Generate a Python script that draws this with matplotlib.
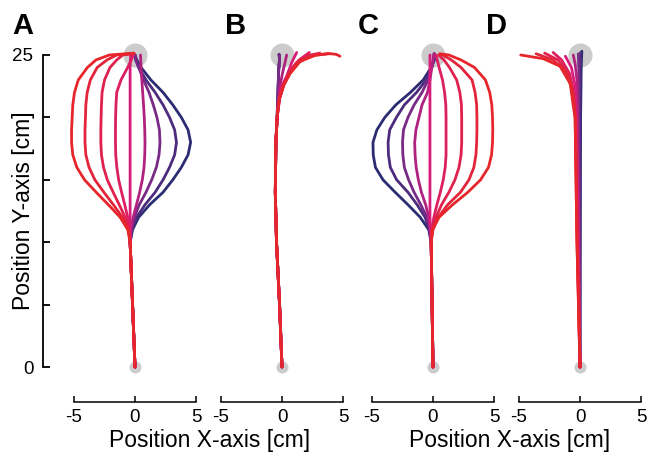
import matplotlib.pyplot as plt

plt.rcParams['font.family'] = ['Liberation Sans', 'DejaVu Sans']

# line colours, index 0 = navy ... index 8 = red
colors = ['#2b2c72', '#4d2b7d', '#782a86', '#b0227f', '#d81c7b',
          '#dc1e63', '#e0214d', '#e3243a', '#e6262b']

# y samples (cm) used by the curves of panels A and C
y_ac = [0, 10, 11, 12, 13, 14, 15, 16, 17, 18, 19, 20, 21, 22, 23, 24, 24.6, 25]

# panel A: x (cm) at y_ac, navy -> red
a_x = [
    [0, -0.4, -0.2, 0.3, 1.2, 2.3, 3.1, 3.8, 4.35, 4.56, 4.35, 3.8, 3.1, 2.3, 1.3, 0.5, 0.15, 0.0],
    [0, -0.4, -0.25, 0.13, 0.82, 1.65, 2.3, 2.83, 3.25, 3.4, 3.25, 2.83, 2.3, 1.65, 0.9, 0.3, 0.05, 0.0],
    [0, -0.4, -0.3, -0.05, 0.35, 0.9, 1.37, 1.75, 1.97, 2.05, 2.0, 1.8, 1.5, 1.15, 0.7, 0.3, 0.1, 0.0],
    [0, -0.4, -0.35, -0.15, 0.12, 0.38, 0.6, 0.74, 0.8, 0.82, 0.8, 0.76, 0.7, 0.63, 0.56, 0.5, 0.47, 0.45],
    [0, -0.4, -0.4, -0.4, -0.4, -0.4, -0.4, -0.4, -0.4, -0.4, -0.4, -0.4, -0.4, -0.4, -0.4, -0.4, -0.38, -0.35],
    [0, -0.4, -0.45, -0.6, -0.84, -1.1, -1.34, -1.49, -1.58, -1.6, -1.6, -1.59, -1.56, -1.5, -1.15, -0.6, -0.3, -0.15],
    [0, -0.4, -0.5, -0.81, -1.29, -1.79, -2.27, -2.58, -2.75, -2.8, -2.8, -2.78, -2.75, -2.7, -2.5, -2.05, -1.5, -1.0],
    [0, -0.4, -0.55, -1.03, -1.77, -2.55, -3.29, -3.77, -4.03, -4.1, -4.1, -4.06, -4.03, -3.92, -3.66, -3.1, -2.3, -1.5],
    [0, -0.4, -0.59, -1.22, -2.18, -3.18, -4.14, -4.77, -5.1, -5.2, -5.2, -5.15, -5.1, -4.96, -4.65, -3.9, -3.2, -2.1],
]
a_end_x = [0.0, 0.0, 0.0, 0.45, -0.3, -0.05, -0.1, -0.1, -0.1]
a_end_y = [25.0, 25.0, 25.0, 25.0, 25.1, 25.1, 25.12, 25.12, 25.15]

# panel C: x (cm) at y_ac, navy -> red
c_x = [
    [0, -0.15, -0.35, -1.05, -2.05, -3.1, -4.1, -4.72, -4.9, -4.92, -4.6, -3.95, -3.05, -1.85, -0.8, -0.15, 0.12, 0.1],
    [0, -0.15, -0.3, -0.65, -1.3, -2.05, -2.98, -3.5, -3.65, -3.68, -3.55, -3.0, -2.35, -1.35, -0.55, -0.1, 0.05, 0.1],
    [0, -0.15, -0.25, -0.5, -1.0, -1.55, -2.0, -2.35, -2.47, -2.5, -2.42, -2.05, -1.55, -0.9, -0.4, -0.1, 0.05, 0.1],
    [0, -0.15, -0.2, -0.35, -0.6, -0.95, -1.2, -1.38, -1.47, -1.5, -1.4, -1.15, -0.9, -0.45, -0.25, -0.1, 0.0, 0.05],
    [0, -0.15, -0.2, -0.25, -0.25, -0.25, -0.25, -0.25, -0.25, -0.25, -0.25, -0.25, -0.25, -0.25, -0.25, -0.25, -0.25, -0.25],
    [0, -0.15, -0.1, 0.07, 0.32, 0.6, 0.84, 1.0, 1.07, 1.07, 1.07, 1.07, 1.05, 0.95, 0.78, 0.5, 0.35, 0.25],
    [0, -0.15, -0.05, 0.25, 0.7, 1.3, 1.8, 2.13, 2.3, 2.35, 2.35, 2.35, 2.33, 2.2, 1.94, 1.35, 0.9, 0.45],
    [0, -0.15, 0.0, 0.43, 1.2, 2.25, 2.95, 3.35, 3.52, 3.58, 3.6, 3.6, 3.58, 3.45, 3.2, 2.3, 1.5, 0.8],
    [0, -0.15, -0.05, 0.5, 1.6, 2.85, 3.9, 4.55, 4.8, 4.88, 4.9, 4.88, 4.82, 4.65, 4.3, 3.4, 2.3, 1.3],
]
c_end_x = [0.1, 0.1, 0.1, 0.1, -0.25, 0.25, 0.45, 0.55, 0.55]
c_end_y = [25.1, 25.1, 25.1, 25.1, 25.0, 25.0, 25.0, 25.05, 25.1]

# panel B: common lower path, then each curve's own upper path
b_trunk_x = [0, -0.2, -0.45, -0.55, -0.5, -0.4]
b_trunk_y = [0, 5, 10, 14, 18, 20]
b_top_x = [
    [-0.33, -0.27, -0.2, -0.24],
    [-0.33, -0.27, -0.2, -0.24],
    [-0.33, -0.27, -0.2, -0.24],
    [-0.2, 0.05, 0.25, 0.38],
    [-0.1, 0.38, 0.8, 1.2],
    [-0.2, 0.2, 0.7, 1.4, 2.24],
    [-0.22, 0.15, 0.55, 1.2, 2.1, 3.1],
    [-0.25, 0.1, 0.6, 1.35, 2.5, 3.9],
    [-0.25, 0.1, 0.66, 1.5, 2.8, 3.8, 4.45, 4.75],
]
b_top_y = [
    [22, 23.8, 24.7, 25.05],
    [22, 23.8, 24.7, 25.05],
    [22, 23.8, 24.7, 25.05],
    [22.3, 23.6, 24.4, 25.0],
    [22.3, 23.3, 24.4, 25.2],
    [21.5, 22.8, 23.8, 24.6, 25.2],
    [21.4, 22.6, 23.5, 24.4, 24.95, 25.15],
    [21.4, 22.5, 23.5, 24.4, 24.95, 25.1],
    [21.4, 22.5, 23.5, 24.5, 25.0, 25.12, 25.05, 24.9],
]

# panel D: full paths, navy -> red
d_x = [
    [0, 0.02, 0.05, 0.1, 0.15],
    [0, 0.0, 0.0, 0.03, 0.05],
    [0, -0.05, -0.1, -0.1, -0.14],
    [0, -0.1, -0.2, -0.25, -0.4, -0.55],
    [0, -0.15, -0.3, -0.4, -0.7, -1.2],
    [0, -0.2, -0.35, -0.5, -0.85, -1.5, -2.2],
    [0, -0.22, -0.38, -0.55, -0.95, -1.8, -2.9],
    [0, -0.25, -0.4, -0.6, -1.1, -2.2, -3.6],
    [0, -0.25, -0.4, -0.55, -0.8, -1.64, -3.0, -4.86],
]
d_y = [
    [0, 10, 20, 24, 25.3],
    [0, 10, 20, 24, 25.2],
    [0, 10, 20, 24, 25.1],
    [0, 10, 20, 23, 24.3, 25.0],
    [0, 10, 20, 22.5, 24.0, 24.9],
    [0, 10, 20, 22, 23.5, 24.6, 25.2],
    [0, 10, 20, 22, 23.5, 24.6, 25.15],
    [0, 10, 20, 22, 23.6, 24.6, 25.1],
    [0, 10, 20, 20.9, 22.7, 24.1, 24.7, 25.0],
]

panel_letters = ['A', 'B', 'C', 'D']
y_ticks = [0, 5, 10, 15, 20, 25]
y_ticklabels = ['0', '', '', '', '', '25']
x_ticks = [-5, 0, 5]
x_ticklabels = ['-5', '0', '5']

# build per-panel lists of (x, y) paths
paths = [[], [], [], []]
for i in range(9):
    paths[0].append((a_x[i] + [a_end_x[i]], y_ac + [a_end_y[i]]))
    paths[1].append((b_trunk_x + b_top_x[i], b_trunk_y + b_top_y[i]))
    paths[2].append((c_x[i] + [c_end_x[i]], y_ac + [c_end_y[i]]))
    paths[3].append((d_x[i], d_y[i]))

W, H = 648, 453
fig = plt.figure(figsize=(W / 100, H / 100), dpi=100)
centers = [135, 282, 433, 580]   # pixel x of 0 cm in each panel
px_cm = 12.2
ax_bottom, ax_top = 379.5, 42.5

for k, cx in enumerate(centers):
    ax = fig.add_axes([(cx - 5.5 * px_cm) / W, (H - ax_bottom) / H,
                       11 * px_cm / W, (ax_bottom - ax_top) / H])
    ax.set_xlim(-5.5, 5.5)
    ax.set_ylim(-1, 26)
    ax.scatter([0], [25], s=300, color='#cccccc', zorder=1, linewidths=0)
    ax.scatter([0], [0], s=75, color='#cccccc', zorder=1, linewidths=0)
    for i, (xs, ys) in enumerate(paths[k]):
        ax.plot(xs, ys, color=colors[i], lw=2.0, zorder=2 + i,
                solid_capstyle='round', solid_joinstyle='round')

    for s in ['top', 'right']:
        ax.spines[s].set_visible(False)
    ax.spines['bottom'].set_position(('outward', 16.4))
    ax.spines['bottom'].set_bounds(-5, 5)
    ax.spines['bottom'].set_linewidth(1.1)
    ax.set_xticks(x_ticks)
    ax.set_xticklabels(x_ticklabels)
    ax.tick_params(axis='x', direction='in', length=4.5, width=1.1, pad=5, labelsize=13.5)
    if k == 0:
        ax.spines['left'].set_position(('outward', 17.9))
        ax.spines['left'].set_bounds(0, 25)
        ax.spines['left'].set_linewidth(1.3)
        ax.set_yticks(y_ticks)
        ax.set_yticklabels(y_ticklabels)
        ax.tick_params(axis='y', direction='in', length=5, width=1.3, pad=7, labelsize=13.5)
    else:
        ax.spines['left'].set_visible(False)
        ax.set_yticks([])
    ax.patch.set_visible(False)

letter_x = [23, 236, 368, 497]
for lx, t in zip(letter_x, panel_letters):
    fig.text(lx / W, 1 - 26 / H, t, fontsize=21, fontweight='bold', ha='center', va='center')

fig.text(24 / W, 1 - 211 / H, 'Position Y-axis [cm]', fontsize=16.5, rotation=90,
         ha='center', va='center')
fig.text(210 / W, 1 - 440 / H, 'Position X-axis [cm]', fontsize=16.5, ha='center', va='center')
fig.text(510 / W, 1 - 440 / H, 'Position X-axis [cm]', fontsize=16.5, ha='center', va='center')

fig.savefig('out.png', dpi=100)
